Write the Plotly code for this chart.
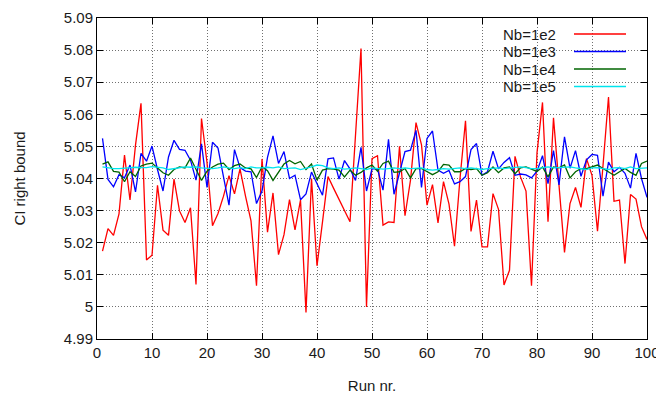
import plotly.graph_objects as go

runs = list(range(1, 101))

nb_1e2 = [5.0174, 5.0244, 5.0223, 5.0290, 5.0473, 5.0333, 5.0504, 5.0634, 5.0146, 5.0161,
          5.0379, 5.0239, 5.0223, 5.0398, 5.0299, 5.0263, 5.0309, 5.0070, 5.0587, 5.0450,
          5.0253, 5.0291, 5.0345, 5.0409, 5.0352, 5.0430, 5.0345, 5.0268, 5.0066, 5.0461,
          5.0233, 5.0355, 5.0163, 5.0225, 5.0334, 5.0240, 5.0333, 4.9983, 5.0400, 5.0128,
          5.0265, 5.0406, 5.0370, 5.0336, 5.0301, 5.0265, 5.0535, 5.0805, 5.0000, 5.0462,
          5.0471, 5.0255, 5.0265, 5.0263, 5.0500, 5.0284, 5.0395, 5.0574, 5.0505, 5.0317,
          5.0381, 5.0262, 5.0390, 5.0320, 5.0189, 5.0400, 5.0580, 5.0235, 5.0333, 5.0187,
          5.0187, 5.0353, 5.0304, 5.0068, 5.0114, 5.0469, 5.0405, 5.0361, 5.0066, 5.0480,
          5.0637, 5.0265, 5.0589, 5.0380, 5.0170, 5.0322, 5.0372, 5.0310, 5.0462, 5.0410,
          5.0236, 5.0440, 5.0654, 5.0329, 5.0333, 5.0135, 5.0350, 5.0336, 5.0250, 5.0210]

nb_1e3 = [5.0525, 5.0397, 5.0374, 5.0412, 5.0402, 5.0442, 5.0358, 5.0478, 5.0454, 5.0501,
          5.0428, 5.0361, 5.0467, 5.0519, 5.0491, 5.0488, 5.0457, 5.0395, 5.0508, 5.0372,
          5.0513, 5.0495, 5.0405, 5.0317, 5.0490, 5.0434, 5.0423, 5.0421, 5.0322, 5.0361,
          5.0466, 5.0533, 5.0447, 5.0484, 5.0400, 5.0410, 5.0334, 5.0352, 5.0420, 5.0385,
          5.0348, 5.0461, 5.0464, 5.0398, 5.0456, 5.0430, 5.0394, 5.0497, 5.0361, 5.0430,
          5.0430, 5.0364, 5.0522, 5.0351, 5.0416, 5.0484, 5.0488, 5.0550, 5.0372, 5.0525,
          5.0548, 5.0426, 5.0416, 5.0425, 5.0383, 5.0390, 5.0406, 5.0490, 5.0509, 5.0410,
          5.0421, 5.0485, 5.0430, 5.0450, 5.0465, 5.0410, 5.0414, 5.0411, 5.0402, 5.0423,
          5.0471, 5.0384, 5.0487, 5.0380, 5.0530, 5.0432, 5.0487, 5.0407, 5.0458, 5.0475,
          5.0472, 5.0345, 5.0451, 5.0421, 5.0435, 5.0416, 5.0370, 5.0478, 5.0400, 5.0341]

nb_1e4 = [5.0445, 5.0452, 5.0422, 5.0420, 5.0390, 5.0421, 5.0406, 5.0439, 5.0445, 5.0448,
          5.0433, 5.0418, 5.0410, 5.0428, 5.0436, 5.0433, 5.0464, 5.0431, 5.0394, 5.0423,
          5.0436, 5.0445, 5.0448, 5.0428, 5.0440, 5.0445, 5.0433, 5.0430, 5.0403, 5.0437,
          5.0424, 5.0394, 5.0421, 5.0445, 5.0456, 5.0446, 5.0453, 5.0428, 5.0445, 5.0395,
          5.0426, 5.0431, 5.0429, 5.0426, 5.0405, 5.0426, 5.0410, 5.0419, 5.0433, 5.0442,
          5.0423, 5.0447, 5.0454, 5.0419, 5.0421, 5.0431, 5.0402, 5.0431, 5.0431, 5.0421,
          5.0412, 5.0421, 5.0444, 5.0442, 5.0421, 5.0421, 5.0431, 5.0428, 5.0431, 5.0410,
          5.0418, 5.0436, 5.0418, 5.0433, 5.0436, 5.0415, 5.0433, 5.0436, 5.0429, 5.0422,
          5.0436, 5.0405, 5.0436, 5.0433, 5.0442, 5.0402, 5.0421, 5.0431, 5.0431, 5.0436,
          5.0442, 5.0431, 5.0421, 5.0410, 5.0421, 5.0431, 5.0419, 5.0410, 5.0447, 5.0454]

nb_1e5 = [5.0436, 5.0433, 5.0431, 5.0431, 5.0433, 5.0434, 5.0435, 5.0434, 5.0434, 5.0437,
          5.0436, 5.0433, 5.0428, 5.0431, 5.0434, 5.0436, 5.0435, 5.0436, 5.0433, 5.0431,
          5.0431, 5.0433, 5.0436, 5.0433, 5.0431, 5.0434, 5.0431, 5.0436, 5.0433, 5.0433,
          5.0435, 5.0433, 5.0436, 5.0431, 5.0433, 5.0433, 5.0428, 5.0431, 5.0436, 5.0442,
          5.0440, 5.0433, 5.0431, 5.0433, 5.0429, 5.0431, 5.0433, 5.0431, 5.0428, 5.0433,
          5.0431, 5.0429, 5.0431, 5.0433, 5.0431, 5.0433, 5.0431, 5.0431, 5.0433, 5.0428,
          5.0426, 5.0428, 5.0431, 5.0429, 5.0431, 5.0433, 5.0431, 5.0433, 5.0431, 5.0428,
          5.0431, 5.0433, 5.0433, 5.0431, 5.0433, 5.0433, 5.0436, 5.0434, 5.0431, 5.0431,
          5.0433, 5.0436, 5.0433, 5.0434, 5.0436, 5.0436, 5.0433, 5.0431, 5.0428, 5.0433,
          5.0434, 5.0431, 5.0428, 5.0433, 5.0434, 5.0431, 5.0436, 5.0431, 5.0433, 5.0433]

series_names = ["Nb=1e2", "Nb=1e3", "Nb=1e4", "Nb=1e5"]
series_values = [nb_1e2, nb_1e3, nb_1e4, nb_1e5]
series_colors = ["#ff0000", "#0000ff", "#006400", "#00e5ee"]

x_ticks = [0, 10, 20, 30, 40, 50, 60, 70, 80, 90, 100]
y_ticks = [4.99, 5.00, 5.01, 5.02, 5.03, 5.04, 5.05, 5.06, 5.07, 5.08, 5.09]
y_tick_labels = ["4.99", "5", "5.01", "5.02", "5.03", "5.04", "5.05", "5.06", "5.07", "5.08", "5.09"]

FONT = "Liberation Sans, Arial, sans-serif"
TXT = "#1a1a1a"

fig = go.Figure()
for name, vals, col in zip(series_names, series_values, series_colors):
    fig.add_trace(go.Scatter(x=runs, y=vals, mode="lines", name=name,
                             line=dict(color=col, width=1.3), showlegend=False))

# page geometry (the page body has an 8px margin, compensated below)
OFF = 8
W, H = 664 - OFF, 399 - OFF
L, R, T, B = 97 - OFF, 17, 18 - OFF, 60
pw, ph = W - L - R, H - T - B

# gnuplot-style key: text right-aligned, line sample on the right (page coords)
key_rows = [34, 51.5, 69, 86.5]
for name, col, yp in zip(series_names, series_colors, key_rows):
    yy = 1 - (yp - OFF - T) / ph
    fig.add_annotation(xref="paper", yref="paper", x=(558 - OFF - L) / pw, y=yy,
                       text=name, showarrow=False, xanchor="right", yanchor="middle",
                       font=dict(family=FONT, size=15, color=TXT))
    fig.add_shape(type="line", xref="paper", yref="paper",
                  x0=(574 - OFF - L) / pw, x1=(626 - OFF - L) / pw, y0=yy, y1=yy,
                  line=dict(color=col, width=1.3))

axis_common = dict(showline=True, linecolor="#000000", linewidth=1, mirror="allticks",
                   ticks="inside", ticklen=6, tickcolor="#000000", tickwidth=1,
                   showgrid=True, gridcolor="#707070", griddash="1px,2px", gridwidth=1,
                   zeroline=False, automargin=False,
                   tickfont=dict(family=FONT, size=15, color=TXT))

fig.update_xaxes(range=[0, 100], tickvals=x_ticks,
                 title=dict(text="Run nr.", font=dict(family=FONT, size=15, color=TXT), standoff=20),
                 **axis_common)
fig.update_yaxes(range=[4.99, 5.09], tickvals=y_ticks, ticktext=y_tick_labels,
                 title=dict(text="CI right bound", font=dict(family=FONT, size=15, color=TXT), standoff=34),
                 **axis_common)

fig.update_layout(width=W, height=H, margin=dict(l=L, r=R, t=T, b=B, autoexpand=False),
                  paper_bgcolor="#ffffff", plot_bgcolor="#ffffff",
                  font=dict(family=FONT, size=15))

fig.write_html("out.html")
